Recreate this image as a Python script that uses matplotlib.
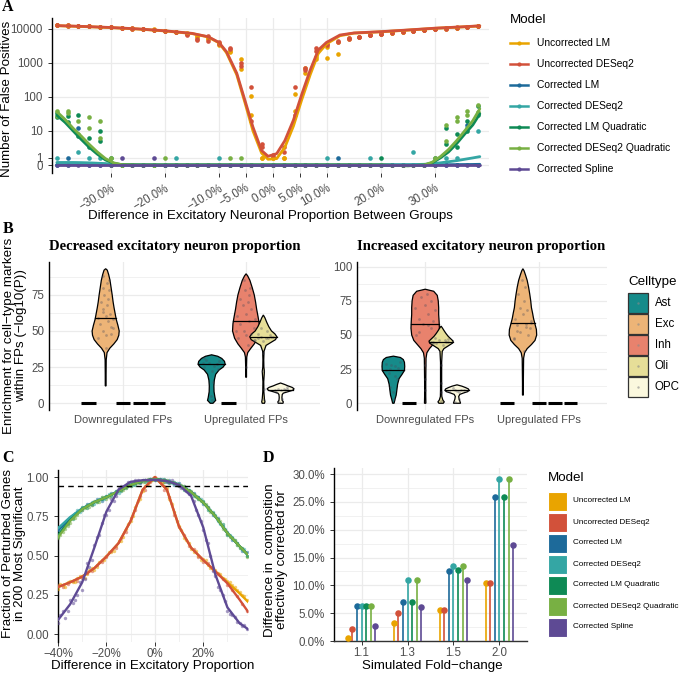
"""
Four-panel figure: false positives (A), cell-type enrichment violins (B),
perturbed-gene recovery (C) and corrected composition lollipops (D)
"""

import matplotlib
matplotlib.use('Agg')
import matplotlib.pyplot as plt
from matplotlib.patches import Rectangle, Polygon
import numpy as np

plt.rcParams['font.family'] = ['Liberation Sans', 'DejaVu Sans']
plt.rcParams['axes.unicode_minus'] = True

# ---------------- data ----------------
models = ['Uncorrected LM', 'Uncorrected DESeq2', 'Corrected LM', 'Corrected DESeq2',
          'Corrected LM Quadratic', 'Corrected DESeq2 Quadratic', 'Corrected Spline']
model_colors = ['#E9A400', '#D2513A', '#1D6A9A', '#34A6A4', '#0E8A55', '#78B043', '#5E4A94']

# Panel A: points (difference in excitatory proportion vs number of false positives)
A_x = [-0.40, -0.38, -0.36, -0.34, -0.32, -0.30, -0.28, -0.26, -0.24, -0.22,
       -0.20, -0.18, -0.16, -0.14, -0.12, -0.10, -0.08, -0.06, -0.04, -0.02,
       0.00, 0.02, 0.04, 0.06, 0.08, 0.10, 0.12, 0.14, 0.16, 0.18,
       0.20, 0.22, 0.24, 0.26, 0.28, 0.30, 0.32, 0.34, 0.36, 0.38]
A_ulm_1 = [12800, 12600, 12400, 12000, 11600, 11300, 10900, 10400, 9900, 9600,
           8800, 8300, 7600, 6200, 5500, 3800, 2300, 650, 110, 1,
           1, 1, 120, 500, 1300, 1400, 1800, 5200, 5600, 6400,
           7000, 7600, 8100, 8600, 9100, 9600, 10100, 10700, 11200, 11800]
A_ulm_2 = [12600, 12400, 12200, 11900, 11500, 11100, 10600, 10100, 9700, 9300,
           8500, 7900, 7000, 5900, 4900, 3300, 2100, 1300, 30, 1,
           1, 1, 40, 700, 1500, 3000, 4000, 5400, 5900, 6600,
           7200, 7800, 8300, 8800, 9300, 9800, 10300, 10900, 11500, 12100]
A_ude_1 = [12900, 12700, 12400, 12100, 11700, 11200, 10800, 10300, 9900, 9500,
           8900, 8200, 6800, 4800, 6000, 4200, 2700, 1000, 200, 4,
           1.5, 2, 200, 700, 2300, 3300, 4500, 5500, 5900, 6800,
           7300, 7700, 8200, 8700, 9200, 9700, 10200, 10800, 11300, 11900]
A_ude_2 = [12700, 12500, 12300, 11900, 11600, 11100, 10600, 10200, 9800, 9400,
           8700, 8000, 7200, 5200, 4500, 3600, 2500, 800, 20, 3,
           1.2, 3, 30, 600, 2700, 3700, 4000, 5200, 5700, 6500,
           7100, 7900, 8400, 8900, 9400, 9900, 10400, 11000, 11600, 12200]
A_clm = [0, 1, 12, 0, 0, 0, 0, 0, 0, 0, 0, 0, 0, 0, 0, 0, 0, 0, 0, 0,
         0, 0, 0, 0, 0, 0, 1, 0, 0, 0, 0, 0, 0, 0, 0, 0, 0, 0, 15, 0]
A_cde = [1, 0, 2, 1, 1, 0, 0, 0, 0, 0, 0, 1, 0, 0, 0, 1, 0, 0, 0, 0,
         0, 0, 0, 0, 0, 1, 0, 0, 0, 1, 0, 0, 0, 2, 0, 0, 1, 1, 12, 10]
A_clmq_1 = [33, 28, 30, 3, 10, 1, 0, 0, 0, 0, 0, 0, 0, 0, 0, 0, 0, 0, 0, 0,
            0, 0, 0, 0, 0, 0, 0, 0, 0, 0, 1, 0, 0, 0, 0, 1, 12, 3, 20, 30]
A_clmq_2 = [26, 18, 7, 6, 5, 0, 0, 0, 0, 0, 0, 0, 0, 0, 0, 0, 0, 0, 0, 0,
            0, 0, 0, 0, 0, 0, 0, 0, 0, 0, 0, 0, 0, 0, 0, 0, 4, 8, 10, 55]
A_cdeq_1 = [40, 38, 20, 12, 20, 1, 0, 0, 0, 0, 1, 0, 0, 0, 0, 0, 0, 1, 0, 0,
            0, 0, 0, 0, 0, 0, 0, 0, 0, 0, 0, 0, 0, 0, 0, 1, 15, 20, 40, 60]
A_cdeq_2 = [28, 33, 8, 25, 6, 0, 0, 0, 0, 0, 0, 0, 0, 0, 0, 0, 1, 0, 0, 0,
            0, 0, 0, 0, 0, 0, 0, 0, 0, 0, 0, 0, 0, 0, 0, 0, 5, 25, 30, 35]
A_spl = [0, 0, 0, 0, 0, 0, 1, 0, 0, 1, 0, 0, 0, 0, 0, 0, 0, 0, 0, 0,
         0, 0, 0, 0, 0, 0, 0, 0, 0, 0, 0, 0, 0, 0, 0, 0, 0, 0, 0, 0]

# Panel A: smoothed fits
A_fit_unc_x = [-0.40, -0.35, -0.30, -0.25, -0.20, -0.15, -0.12, -0.10, -0.086, -0.067,
               -0.052, -0.037, -0.021, -0.009, 0.007, 0.022, 0.038, 0.053, 0.069, 0.084,
               0.099, 0.124, 0.15, 0.20, 0.25, 0.30, 0.35, 0.383]
A_fit_ulm = [12400, 11700, 10900, 9900, 8700, 7300, 5800, 3900, 2000, 450,
             70, 10, 1.8, 0.8, 0.9, 3, 14, 80, 450, 1900,
             3600, 6300, 7500, 8200, 9200, 10400, 11400, 12200]
A_fit_ude = [12500, 11800, 11000, 10000, 8800, 7400, 5900, 4000, 2140, 500,
             81, 13, 2.3, 1.26, 1.7, 5, 21, 115, 620, 2400,
             4000, 6600, 7600, 8300, 9300, 10500, 11500, 12300]
A_fit_cor_x = [-0.40, -0.385, -0.37, -0.355, -0.34, -0.325, -0.31, -0.295, -0.28, -0.25,
               -0.20, -0.10, 0.0, 0.10, 0.20, 0.25, 0.28, 0.295, 0.31, 0.325,
               0.34, 0.355, 0.37, 0.383]
A_fit_clm = [0.05, 0.05, 0.05, 0.05, 0.05, 0.04, 0.04, 0.03, 0.03, 0.02,
             0.02, 0.02, 0.02, 0.02, 0.02, 0.02, 0.03, 0.03, 0.04, 0.05,
             0.06, 0.07, 0.08, 0.1]
A_fit_cde = [0.35, 0.35, 0.35, 0.33, 0.3, 0.25, 0.2, 0.1, 0.05, 0.03,
             0.02, 0.02, 0.02, 0.02, 0.03, 0.05, 0.1, 0.2, 0.3, 0.45,
             0.6, 0.8, 1.0, 1.2]
A_fit_clmq = [29, 18, 10, 5.5, 3, 1.6, 0.7, 0.25, 0.05, 0,
              0, 0, 0, 0, 0, -0.1, 0, 0.3, 1.0, 2.0,
              4, 8, 15, 32]
A_fit_cdeq = [37, 22, 12, 7, 3.8, 2, 0.9, 0.3, 0.05, 0,
              0, 0, 0, 0, 0, -0.1, 0, 0.4, 1.2, 2.5,
              5, 10, 20, 45]
A_fit_spl = [0, 0, 0, 0, 0, 0, 0, 0, 0, 0,
             0, 0, 0, 0, 0, 0, 0, 0, 0, 0,
             0, 0, 0, 0]

# Panel B: violin outlines (value levels, relative half-widths), medians and jittered points
celltypes = ['Ast', 'Exc', 'Inh', 'Oli', 'OPC']
cell_colors = ['#168B8A', '#EDB477', '#E8826D', '#E6DE98', '#FBF8DE']
fp_groups = ['Downregulated FPs', 'Upregulated FPs']

B_dec_down_exc_y = [12, 20, 30, 35, 38, 41, 44, 47, 50, 54, 58, 62, 66, 70, 75, 80, 85, 89, 92, 93]
B_dec_down_exc_w = [0.03, 0.03, 0.04, 0.1, 0.3, 0.6, 0.85, 0.97, 1.0, 0.9, 0.78, 0.7, 0.62, 0.55,
                    0.48, 0.4, 0.32, 0.22, 0.12, 0.0]
B_dec_up_ast_y = [0, 2, 4, 8, 12, 16, 20, 23, 25, 27, 29, 31, 32.5, 33.5]
B_dec_up_ast_w = [0.1, 0.3, 0.25, 0.18, 0.17, 0.2, 0.3, 0.55, 0.85, 1.0, 0.95, 0.75, 0.45, 0.0]
B_dec_up_inh_y = [18, 25, 32, 35, 38, 41, 45, 50, 55, 60, 65, 70, 75, 80, 85, 88, 89.5]
B_dec_up_inh_w = [0.03, 0.03, 0.05, 0.12, 0.35, 0.6, 0.85, 1.0, 0.97, 0.88, 0.78, 0.7, 0.6, 0.45,
                  0.28, 0.12, 0.0]
B_dec_up_oli_y = [0, 1, 3, 8, 15, 22, 25, 30, 36, 40, 42, 44, 46, 48, 50, 53, 56, 59, 61]
B_dec_up_oli_w = [0.08, 0.12, 0.08, 0.04, 0.03, 0.08, 0.04, 0.03, 0.05, 0.2, 0.55, 0.9, 1.0, 0.85,
                  0.6, 0.4, 0.25, 0.12, 0.0]
B_dec_up_opc_y = [0, 1, 2, 4, 6, 7, 8, 9, 10, 11, 12, 13, 14]
B_dec_up_opc_w = [0.18, 0.2, 0.12, 0.1, 0.12, 0.2, 0.55, 0.9, 1.0, 0.85, 0.55, 0.3, 0.0]

B_inc_down_ast_y = [0, 3, 6, 10, 14, 18, 21, 24, 27, 30, 32, 33.5, 34.5]
B_inc_down_ast_w = [0.05, 0.12, 0.2, 0.25, 0.3, 0.4, 0.6, 0.78, 0.8, 0.78, 0.7, 0.5, 0.0]
B_inc_down_inh_y = [0, 5, 15, 25, 33, 37, 40, 43, 46, 50, 55, 60, 65, 70, 75, 79, 82, 83.5]
B_inc_down_inh_w = [0.05, 0.04, 0.04, 0.05, 0.06, 0.12, 0.3, 0.55, 0.8, 0.95, 1.0, 0.98, 0.95, 0.95,
                    0.92, 0.85, 0.6, 0.0]
B_inc_down_oli_y = [0, 1, 2.5, 5, 10, 20, 30, 38, 40, 42, 44, 45.5, 47, 49, 51, 53, 55, 56.5]
B_inc_down_oli_w = [0.15, 0.22, 0.12, 0.05, 0.04, 0.04, 0.04, 0.08, 0.2, 0.5, 0.8, 0.85, 0.7, 0.5,
                    0.35, 0.22, 0.1, 0.0]
B_inc_down_opc_y = [0, 1, 3, 5, 6.5, 7.5, 8.5, 9.5, 10.5, 11.5, 12.5, 13.5]
B_inc_down_opc_w = [0.25, 0.22, 0.15, 0.12, 0.2, 0.45, 0.75, 0.85, 0.8, 0.6, 0.35, 0.0]
B_inc_up_exc_y = [6, 15, 25, 33, 37, 40, 43, 46, 50, 54, 58, 62, 66, 70, 75, 80, 85, 90, 94, 97, 98.5]
B_inc_up_exc_w = [0.03, 0.03, 0.04, 0.05, 0.12, 0.3, 0.6, 0.85, 0.97, 0.95, 0.85, 0.75, 0.68, 0.6,
                  0.55, 0.48, 0.4, 0.3, 0.18, 0.08, 0.0]

B_dec_down_exc_pts = [45, 48, 50, 52, 55, 57, 58, 59, 60, 62, 65, 68, 70, 72, 75, 78, 80, 83, 85, 88, 47, 53, 63, 38]
B_dec_up_ast_pts = [25, 27, 28, 29, 30, 26, 24, 31, 22, 15, 5, 2, 28, 27]
B_dec_up_inh_pts = [45, 48, 50, 52, 55, 57, 58, 60, 62, 65, 68, 70, 72, 75, 78, 80, 85, 40, 25, 50, 47]
B_dec_up_oli_pts = [44, 45, 46, 47, 48, 45, 46, 44, 43, 50, 52, 35, 22, 10, 3, 46, 45]
B_dec_up_opc_pts = [8, 9, 10, 11, 9, 10, 3, 1, 9, 10]
B_inc_down_ast_pts = [24, 26, 28, 30, 22, 20, 18, 12, 8, 3, 25, 27, 29]
B_inc_down_inh_pts = [50, 55, 58, 60, 62, 65, 68, 70, 72, 75, 78, 80, 28, 18, 10, 45, 52, 57]
B_inc_down_oli_pts = [44, 45, 46, 45, 44, 43, 47, 48, 28, 15, 8, 2, 45, 46]
B_inc_down_opc_pts = [9, 10, 9.5, 10, 11, 8, 3, 1, 9]
B_inc_up_exc_pts = [48, 50, 52, 55, 57, 58, 60, 62, 65, 68, 70, 75, 80, 85, 90, 38, 53, 56, 59, 47]

B_dec_medians = {('Downregulated FPs', 'Exc'): 59, ('Upregulated FPs', 'Ast'): 27,
                 ('Upregulated FPs', 'Inh'): 57, ('Upregulated FPs', 'Oli'): 46,
                 ('Upregulated FPs', 'OPC'): 9.5}
B_inc_medians = {('Downregulated FPs', 'Ast'): 24, ('Downregulated FPs', 'Inh'): 58,
                 ('Downregulated FPs', 'Oli'): 45, ('Downregulated FPs', 'OPC'): 9.5,
                 ('Upregulated FPs', 'Exc'): 59}

# Panel C: fraction of perturbed genes recovered
C_x = [-0.40, -0.38, -0.36, -0.34, -0.32, -0.30, -0.28, -0.26, -0.24, -0.22,
       -0.20, -0.18, -0.16, -0.14, -0.12, -0.10, -0.08, -0.06, -0.04, -0.02,
       0.00, 0.02, 0.04, 0.06, 0.08, 0.10, 0.12, 0.14, 0.16, 0.18,
       0.20, 0.22, 0.24, 0.26, 0.28, 0.30, 0.32, 0.34, 0.36, 0.38]
C_ulm = [0.29, 0.31, 0.33, 0.33, 0.36, 0.37, 0.38, 0.42, 0.43, 0.47, 0.50, 0.52, 0.56, 0.59, 0.67, 0.72,
         0.81, 0.86, 0.94, 0.98, 0.99, 0.97, 0.94, 0.86, 0.78, 0.69, 0.61, 0.58, 0.52, 0.50, 0.48, 0.44,
         0.42, 0.39, 0.36, 0.34, 0.31, 0.28, 0.25, 0.22]
C_ude = [0.31, 0.30, 0.32, 0.34, 0.34, 0.36, 0.39, 0.40, 0.44, 0.46, 0.49, 0.53, 0.55, 0.61, 0.65, 0.74,
         0.79, 0.88, 0.92, 0.97, 1.00, 0.98, 0.92, 0.87, 0.76, 0.68, 0.63, 0.56, 0.54, 0.49, 0.46, 0.45,
         0.41, 0.38, 0.35, 0.31, 0.28, 0.24, 0.19, 0.15]
C_clm = [0.66, 0.68, 0.70, 0.76, 0.77, 0.79, 0.83, 0.82, 0.86, 0.85, 0.87, 0.90, 0.90, 0.93, 0.94, 0.94,
         0.97, 0.96, 0.98, 0.98, 0.99, 0.99, 0.97, 0.98, 0.95, 0.96, 0.94, 0.91, 0.90, 0.87, 0.83, 0.81,
         0.76, 0.74, 0.68, 0.65, 0.60, 0.58, 0.53, 0.52]
C_cde = [0.68, 0.69, 0.72, 0.75, 0.79, 0.80, 0.82, 0.84, 0.84, 0.87, 0.88, 0.89, 0.91, 0.92, 0.93, 0.95,
         0.96, 0.97, 0.98, 0.99, 0.99, 0.98, 0.98, 0.97, 0.96, 0.95, 0.93, 0.92, 0.89, 0.86, 0.84, 0.80,
         0.78, 0.72, 0.69, 0.64, 0.62, 0.57, 0.55, 0.50]
C_clmq = [0.62, 0.67, 0.71, 0.73, 0.78, 0.81, 0.80, 0.83, 0.85, 0.86, 0.88, 0.88, 0.91, 0.91, 0.94, 0.95,
          0.95, 0.97, 0.97, 0.99, 0.98, 0.98, 0.99, 0.96, 0.97, 0.95, 0.92, 0.92, 0.88, 0.87, 0.85, 0.79,
          0.77, 0.73, 0.70, 0.63, 0.61, 0.58, 0.54, 0.50]
C_cdeq = [0.61, 0.65, 0.69, 0.74, 0.76, 0.79, 0.82, 0.82, 0.84, 0.87, 0.86, 0.89, 0.90, 0.92, 0.93, 0.94,
          0.96, 0.97, 0.98, 0.98, 0.99, 0.98, 0.97, 0.97, 0.96, 0.94, 0.94, 0.91, 0.89, 0.86, 0.84, 0.81,
          0.77, 0.73, 0.67, 0.64, 0.61, 0.57, 0.55, 0.49]
C_spl = [0.07, 0.15, 0.15, 0.20, 0.25, 0.28, 0.45, 0.47, 0.62, 0.71, 0.76, 0.86, 0.88, 0.94, 0.95, 0.96,
         0.98, 0.97, 0.98, 0.99, 0.98, 0.99, 0.98, 0.97, 0.96, 0.94, 0.93, 0.89, 0.85, 0.76, 0.66, 0.58,
         0.40, 0.30, 0.25, 0.15, 0.12, 0.08, 0.05, 0.03]

# second set of simulations, offset positions
C_x2 = [-0.39, -0.37, -0.35, -0.33, -0.31, -0.29, -0.27, -0.25, -0.23, -0.21,
        -0.19, -0.17, -0.15, -0.13, -0.11, -0.09, -0.07, -0.05, -0.03, -0.01,
        0.01, 0.03, 0.05, 0.07, 0.09, 0.11, 0.13, 0.15, 0.17, 0.19,
        0.21, 0.23, 0.25, 0.27, 0.29, 0.31, 0.33, 0.35, 0.37]
C_ulm2 = [0.32, 0.30, 0.34, 0.33, 0.37, 0.36, 0.41, 0.41, 0.46, 0.47, 0.52, 0.53, 0.59, 0.62, 0.70, 0.75,
          0.85, 0.91, 0.95, 0.98, 0.99, 0.97, 0.93, 0.83, 0.72, 0.66, 0.60, 0.54, 0.53, 0.47, 0.47, 0.42,
          0.41, 0.38, 0.35, 0.33, 0.30, 0.27, 0.24]
C_cde2 = [0.67, 0.70, 0.73, 0.77, 0.78, 0.81, 0.83, 0.83, 0.86, 0.86, 0.89, 0.90, 0.90, 0.93, 0.95, 0.95,
          0.97, 0.98, 0.97, 0.99, 0.98, 0.99, 0.97, 0.96, 0.96, 0.94, 0.93, 0.90, 0.88, 0.86, 0.82, 0.79,
          0.76, 0.70, 0.67, 0.63, 0.60, 0.55, 0.54]
C_cdeq2 = [0.63, 0.67, 0.71, 0.74, 0.79, 0.80, 0.81, 0.85, 0.84, 0.87, 0.87, 0.90, 0.92, 0.92, 0.94, 0.96,
           0.96, 0.97, 0.99, 0.98, 0.99, 0.98, 0.98, 0.97, 0.95, 0.95, 0.92, 0.91, 0.87, 0.85, 0.83, 0.78,
           0.75, 0.72, 0.66, 0.62, 0.60, 0.55, 0.53]
C_spl2 = [0.12, 0.10, 0.22, 0.22, 0.33, 0.35, 0.43, 0.57, 0.63, 0.76, 0.79, 0.85, 0.93, 0.93, 0.97, 0.96,
          0.98, 0.98, 0.97, 0.99, 0.99, 0.98, 0.97, 0.98, 0.95, 0.93, 0.91, 0.89, 0.79, 0.72, 0.60, 0.50,
          0.37, 0.28, 0.21, 0.13, 0.11, 0.07, 0.06]

C_fit_x = [-0.40, -0.35, -0.30, -0.25, -0.20, -0.15, -0.10, -0.05, 0.0, 0.05, 0.10, 0.15, 0.20,
           0.25, 0.30, 0.35, 0.385]
C_fit_ulm = [0.30, 0.33, 0.366, 0.42, 0.494, 0.579, 0.72, 0.92, 1.0, 0.92, 0.685, 0.55, 0.472,
             0.40, 0.33, 0.26, 0.206]
C_fit_ude = [0.30, 0.33, 0.366, 0.42, 0.494, 0.579, 0.72, 0.92, 1.0, 0.92, 0.685, 0.55, 0.472,
             0.40, 0.323, 0.22, 0.143]
C_fit_clm = [0.66, 0.74, 0.80, 0.84, 0.872, 0.91, 0.949, 0.975, 0.987, 0.975, 0.951, 0.905, 0.838,
             0.75, 0.643, 0.56, 0.505]
C_fit_cde = [0.674, 0.745, 0.80, 0.84, 0.872, 0.91, 0.949, 0.975, 0.987, 0.975, 0.951, 0.905, 0.838,
             0.75, 0.643, 0.56, 0.50]
C_fit_clmq = [0.63, 0.725, 0.796, 0.84, 0.872, 0.91, 0.949, 0.975, 0.987, 0.975, 0.951, 0.905, 0.838,
              0.75, 0.643, 0.56, 0.504]
C_fit_cdeq = [0.617, 0.72, 0.796, 0.84, 0.872, 0.91, 0.949, 0.975, 0.987, 0.975, 0.951, 0.905, 0.838,
              0.75, 0.643, 0.56, 0.504]
C_fit_spl = [0.09, 0.19, 0.33, 0.55, 0.78, 0.92, 0.97, 0.98, 0.983, 0.975, 0.95, 0.88, 0.68,
             0.38, 0.17, 0.07, 0.032]
C_threshold = 0.94

# Panel D: difference in composition effectively corrected for
D_fold = ['1.1', '1.3', '1.5', '2.0']
D_ulm = [0.006, 0.032, 0.056, 0.105]
D_ude = [0.021, 0.051, 0.056, 0.105]
D_clm = [0.0635, 0.070, 0.126, 0.258]
D_cde = [0.0635, 0.110, 0.134, 0.292]
D_clmq = [0.0635, 0.070, 0.127, 0.258]
D_cdeq = [0.0635, 0.110, 0.134, 0.292]
D_spl = [0.0275, 0.062, 0.110, 0.172]

# ---------------- helpers ----------------
W, H = 685, 674
GRID = '#EBEBEB'
TICK = '#4D4D4D'
SERIF = ['Liberation Serif', 'DejaVu Serif']
TITLE_FS = 9.6


def rect(l, t, r, b):
    return [l / W, 1 - b / H, (r - l) / W, (b - t) / H]


def style(ax, bottom_spine=False):
    for s in ['top', 'right']:
        ax.spines[s].set_visible(False)
    ax.spines['bottom'].set_visible(bottom_spine)
    ax.spines['left'].set_linewidth(1.0)
    ax.spines['bottom'].set_linewidth(1.0)
    ax.tick_params(colors='#333333', labelcolor=TICK, labelsize=8.3, length=3, width=0.7)
    ax.set_axisbelow(True)
    ax.grid(True, color=GRID, lw=0.9)


def fwd(v):
    return np.arcsinh(np.asarray(v, dtype=float) / 2) / np.log(10)


def inv(t):
    return 2 * np.sinh(np.asarray(t, dtype=float) * np.log(10))


def pct(v, dec):
    s = f"{v * 100:.{dec}f}%"
    return s.replace('-', '\u2212')


fig = plt.figure(figsize=(W / 100, H / 100), dpi=100)

# ---------------- Panel A ----------------
axA = fig.add_axes(rect(52, 18, 489, 173))
style(axA)
axA.set_yscale('function', functions=(fwd, inv))
axA.set_xlim(-0.409, 0.40)
axA.set_ylim(-1.13, 20900)

A_pts = [(0, A_ulm_1), (0, A_ulm_2), (1, A_ude_1), (1, A_ude_2), (2, A_clm), (3, A_cde),
         (4, A_clmq_1), (4, A_clmq_2), (5, A_cdeq_1), (5, A_cdeq_2), (6, A_spl)]
for mi, vals in A_pts:
    axA.scatter(A_x, vals, s=11, color=model_colors[mi], lw=0, zorder=3)
for mi, xs, vals in [(0, A_fit_unc_x, A_fit_ulm), (1, A_fit_unc_x, A_fit_ude),
                     (2, A_fit_cor_x, A_fit_clm), (3, A_fit_cor_x, A_fit_cde),
                     (4, A_fit_cor_x, A_fit_clmq), (5, A_fit_cor_x, A_fit_cdeq),
                     (6, A_fit_cor_x, A_fit_spl)]:
    axA.plot(xs, vals, color=model_colors[mi], lw=2.0, zorder=4, solid_capstyle='round')

A_xticks = [-0.3, -0.2, -0.1, -0.05, 0.0, 0.05, 0.1, 0.2, 0.3]
axA.set_xticks(A_xticks)
axA.set_xticklabels([pct(v, 1) for v in A_xticks], rotation=30, ha='right',
                    rotation_mode='anchor')
axA.set_yticks([0, 1, 10, 100, 1000, 10000])
axA.set_yticklabels(['0', '1', '10', '100', '1000', '10000'])
axA.yaxis.set_minor_locator(matplotlib.ticker.NullLocator())

# ---------------- Panel B ----------------
offsets = [-0.28, -0.14, 0.0, 0.14, 0.28]
jit = [-0.9, 0.5, -0.25, 0.75, -0.6, 0.3, 0.95, -1.0, 0.0, 0.6, -0.45, 0.2]


def violin(ax, xc, ys, ws, color, hw, med, pts):
    ys = np.asarray(ys, dtype=float)
    ws = np.asarray(ws, dtype=float) * hw
    xs = np.concatenate([xc + ws, (xc - ws)[::-1]])
    yy = np.concatenate([ys, ys[::-1]])
    ax.add_patch(Polygon(np.column_stack([xs, yy]), closed=True, fc=color, ec='black',
                         lw=0.9, zorder=3))
    px = [xc + jit[k % len(jit)] * 0.75 * np.interp(p, ys, ws) for k, p in enumerate(pts)]
    ax.scatter(px, pts, s=4, color='#4A4A5A', alpha=0.35, lw=0, zorder=4)
    mw = np.interp(med, ys, ws)
    ax.plot([xc - mw, xc + mw], [med, med], color='black', lw=0.9, zorder=5)


def flat(ax, xc, hw):
    ax.plot([xc - hw, xc + hw], [0, 0], color='black', lw=2.2, zorder=3,
            solid_capstyle='butt')


def panel_b(ax, shapes, medians, hw, ymax, yticks, title):
    style(ax)
    ax.set_xlim(0.4, 2.6)
    ax.set_ylim(-0.05 * ymax, ymax * 1.05)
    ax.set_yticks(yticks)
    minor = [t + 12.5 for t in yticks if t + 12.5 < ymax * 1.05]
    ax.set_yticks(minor, minor=True)
    ax.grid(True, which='minor', axis='y', color=GRID, lw=0.5)
    ax.tick_params(axis='x', length=0, labelsize=8.0)
    ax.tick_params(axis='y', length=0)
    ax.tick_params(which='minor', length=0)
    ax.set_xticks([1, 2])
    ax.set_xticklabels(fp_groups)
    for gi, g in enumerate(fp_groups):
        for ci, c in enumerate(celltypes):
            xc = gi + 1 + offsets[ci]
            key = (g, c)
            if key in shapes:
                ys, ws, pts = shapes[key]
                violin(ax, xc, ys, ws, cell_colors[ci], hw, medians[key], pts)
            else:
                flat(ax, xc, 0.06)
    ax.text(0.0, 1.06, title, transform=ax.transAxes, fontsize=10.6, fontweight='bold',
            family=SERIF, ha='left', va='bottom')


axB1 = fig.add_axes(rect(49, 262, 320, 410))
panel_b(axB1, {('Downregulated FPs', 'Exc'): (B_dec_down_exc_y, B_dec_down_exc_w, B_dec_down_exc_pts),
               ('Upregulated FPs', 'Ast'): (B_dec_up_ast_y, B_dec_up_ast_w, B_dec_up_ast_pts),
               ('Upregulated FPs', 'Inh'): (B_dec_up_inh_y, B_dec_up_inh_w, B_dec_up_inh_pts),
               ('Upregulated FPs', 'Oli'): (B_dec_up_oli_y, B_dec_up_oli_w, B_dec_up_oli_pts),
               ('Upregulated FPs', 'OPC'): (B_dec_up_opc_y, B_dec_up_opc_w, B_dec_up_opc_pts)},
        B_dec_medians, 0.11, 93, [0, 25, 50, 75], 'Decreased excitatory neuron proportion')

axB2 = fig.add_axes(rect(357, 262, 607, 410))
panel_b(axB2, {('Downregulated FPs', 'Ast'): (B_inc_down_ast_y, B_inc_down_ast_w, B_inc_down_ast_pts),
               ('Downregulated FPs', 'Inh'): (B_inc_down_inh_y, B_inc_down_inh_w, B_inc_down_inh_pts),
               ('Downregulated FPs', 'Oli'): (B_inc_down_oli_y, B_inc_down_oli_w, B_inc_down_oli_pts),
               ('Downregulated FPs', 'OPC'): (B_inc_down_opc_y, B_inc_down_opc_w, B_inc_down_opc_pts),
               ('Upregulated FPs', 'Exc'): (B_inc_up_exc_y, B_inc_up_exc_w, B_inc_up_exc_pts)},
        B_inc_medians, 0.125, 98.5, [0, 25, 50, 75, 100], 'Increased excitatory neuron proportion')

# ---------------- Panel C ----------------
axC = fig.add_axes(rect(58, 470, 248, 642))
style(axC)
axC.tick_params(axis='x', pad=1.5)
axC.set_xlim(-0.40, 0.385)
axC.set_ylim(-0.05, 1.045)
for mi, xs, vals in [(0, C_x, C_ulm), (1, C_x, C_ude), (2, C_x, C_clm), (3, C_x, C_cde),
                     (4, C_x, C_clmq), (5, C_x, C_cdeq), (6, C_x, C_spl),
                     (0, C_x2, C_ulm2), (3, C_x2, C_cde2), (5, C_x2, C_cdeq2), (6, C_x2, C_spl2)]:
    axC.scatter(xs, vals, s=6, color=model_colors[mi], alpha=0.55, lw=0, zorder=3)
for mi, vals in enumerate([C_fit_ulm, C_fit_ude, C_fit_clm, C_fit_cde, C_fit_clmq, C_fit_cdeq,
                           C_fit_spl]):
    axC.plot(C_fit_x, vals, color=model_colors[mi], lw=1.7, zorder=4)
axC.axhline(C_threshold, color='black', ls=(0, (4, 3)), lw=1.0, zorder=5)
axC.set_xticks([-0.4, -0.2, 0.0, 0.2])
axC.set_xticklabels([pct(v, 0) for v in [-0.4, -0.2, 0.0, 0.2]])
axC.set_xticks([-0.3, -0.1, 0.1, 0.3], minor=True)
axC.set_yticks([0, 0.25, 0.5, 0.75, 1.0])
axC.set_yticklabels(['0.00', '0.25', '0.50', '0.75', '1.00'])
axC.set_yticks([0.125, 0.375, 0.625, 0.875], minor=True)
axC.grid(True, which='minor', color=GRID, lw=0.5)
axC.tick_params(which='minor', length=0)

# ---------------- Panel D ----------------
axD = fig.add_axes(rect(334, 468, 527, 641))
style(axD, bottom_spine=True)
axD.tick_params(axis='x', pad=1.5)
axD.spines['bottom'].set_color('#333333')
axD.set_xlim(0.4, 4.6)
axD.set_ylim(0, 0.311)
xs = np.arange(1, len(D_fold) + 1)
for mi, vals in enumerate([D_ulm, D_ude, D_clm, D_cde, D_clmq, D_cdeq, D_spl]):
    xx = xs + (mi - 3) * 0.1
    axD.vlines(xx, 0, vals, color=model_colors[mi], lw=1.2, zorder=3)
    axD.scatter(xx, vals, s=22, color=model_colors[mi], lw=0, zorder=4, clip_on=False)
axD.set_xticks(xs)
axD.set_xticklabels(D_fold)
D_yt = [0, 0.05, 0.10, 0.15, 0.20, 0.25, 0.30]
axD.set_yticks(D_yt)
axD.set_yticklabels([pct(v, 1) for v in D_yt])
axD.set_yticks([0.025, 0.075, 0.125, 0.175, 0.225, 0.275], minor=True)
axD.grid(True, which='minor', axis='y', color=GRID, lw=0.5)
axD.tick_params(which='minor', length=0)

# ---------------- overlay: axis titles, panel letters and legends ----------------
ov = fig.add_axes([0, 0, 1, 1], zorder=10)
ov.set_xlim(0, W)
ov.set_ylim(H, 0)
ov.axis('off')
ov.patch.set_alpha(0)

axis_titles = [
    (7, 99, 'Number of False Positives', 90),
    (270, 216, 'Difference in Excitatory Neuronal Proportion Between Groups', 0),
    (15, 336, 'Enrichment for cell\u2212type markers\nwithin FPs (\u2212log10(P))', 90),
    (14, 554, 'Fraction of Perturbed Genes\nin 200 Most Significant', 90),
    (153, 666, 'Difference in Excitatory Proportion', 0),
    (276, 560, 'Difference in  composition\neffectively corrected for', 90),
    (432, 666, 'Simulated Fold\u2212change', 0),
]
for x, y, s, rot in axis_titles:
    ov.text(x, y, s, fontsize=TITLE_FS, rotation=rot, ha='center', va='center',
            multialignment='center', linespacing=1.1)

for lab, x, y in [('A', 8, 7), ('B', 8, 229), ('C', 8, 458), ('D', 268, 458)]:
    ov.text(x, y, lab, fontsize=11.5, fontweight='bold', family=SERIF, ha='center', va='center')

# legend A
ov.text(510, 20, 'Model', fontsize=TITLE_FS, va='center', ha='left')
for i, (m, c) in enumerate(zip(models, model_colors)):
    y = 43 + 21 * i
    ov.plot([510, 528], [y, y], color=c, lw=1.8)
    ov.scatter([519], [y], s=9, color=c, lw=0)
    ov.text(537, y, m, fontsize=7.4, va='center', ha='left')

# legend B
ov.text(628, 282, 'Celltype', fontsize=TITLE_FS, va='center', ha='left')
for i, (ct, c) in enumerate(zip(celltypes, cell_colors)):
    y = 303 + 21 * i
    ov.add_patch(Rectangle((628, y - 10), 20, 20, fc=c, ec='#333333', lw=0.9))
    ov.scatter([638], [y], s=3, color='#8A8A8A', alpha=0.6, lw=0)
    ov.text(655, y, ct, fontsize=8.3, va='center', ha='left')

# legend D
ov.text(548, 478, 'Model', fontsize=TITLE_FS, va='center', ha='left')
for i, (m, c) in enumerate(zip(models, model_colors)):
    y = 501 + 21 * i
    ov.add_patch(Rectangle((548, y - 9.5), 19, 19, fc=c, ec='white', lw=0.8))
    ov.text(573, y, m, fontsize=5.9, va='center', ha='left')

fig.savefig('out.png', dpi=100, facecolor='white')
